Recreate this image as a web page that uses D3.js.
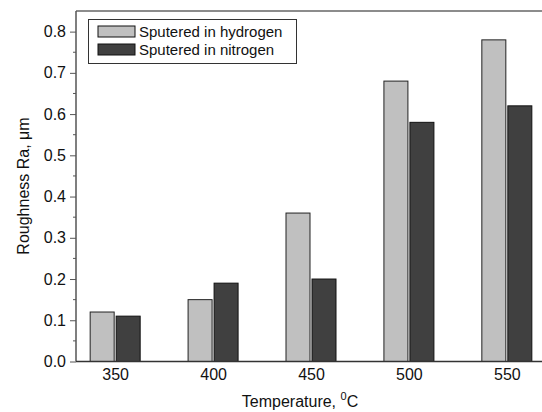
<!DOCTYPE html>
<html>
<head>
<meta charset="utf-8">
<script src="https://cdn.jsdelivr.net/npm/d3@7"></script>
<style>
  body { margin: 0; background: #fff; }
  text { font-family: "Liberation Sans", Arial, sans-serif; }
</style>
</head>
<body>
<div id="chart"></div>
<script>
// data
const temperatures = [350, 400, 450, 500, 550];
const hydrogen = [0.12, 0.15, 0.36, 0.68, 0.78];
const nitrogen = [0.11, 0.19, 0.20, 0.58, 0.62];
const seriesNames = ["Sputered in hydrogen", "Sputered in nitrogen"];
const yTicks = [0.0, 0.1, 0.2, 0.3, 0.4, 0.5, 0.6, 0.7, 0.8];

const width = 542, height = 412;
const plotLeft = 76, plotTop = 11, plotBottom = 361.5, plotRight = 546;

const svg = d3.select("#chart").append("svg")
    .attr("width", width)
    .attr("height", height);

const x = d3.scaleLinear().domain([330, 570]).range([plotLeft, plotRight]);
const y = d3.scaleLinear().domain([0, 0.85]).range([plotBottom, plotTop]);

const barW = 24;
const colors = ["#c0c0c0", "#404040"];

// bars
const rows = temperatures.map((t, i) => ({ t: t, h: hydrogen[i], n: nitrogen[i] }));

const groups = svg.selectAll("g.grp")
    .data(rows)
    .enter()
    .append("g")
    .attr("class", "grp");

groups.append("rect")
    .attr("x", d => x(d.t) - barW - 1)
    .attr("y", d => y(d.h))
    .attr("width", barW)
    .attr("height", d => y(0) - y(d.h))
    .attr("fill", colors[0])
    .attr("stroke", "#222")
    .attr("stroke-width", 1);

groups.append("rect")
    .attr("x", d => x(d.t) + 1)
    .attr("y", d => y(d.n))
    .attr("width", barW)
    .attr("height", d => y(0) - y(d.n))
    .attr("fill", colors[1])
    .attr("stroke", "#111")
    .attr("stroke-width", 1);

// top frame line
svg.append("line")
    .attr("x1", plotLeft).attr("x2", width)
    .attr("y1", plotTop).attr("y2", plotTop)
    .attr("stroke", "#666").attr("stroke-width", 1.5);

// y axis
const yAxis = d3.axisLeft(y)
    .tickValues(yTicks)
    .tickFormat(d3.format(".1f"))
    .tickSize(6)
    .tickPadding(4);

const gy = svg.append("g")
    .attr("transform", `translate(${plotLeft},0)`)
    .call(yAxis);
gy.select(".domain").attr("d", `M0,${plotBottom}V${plotTop}`).attr("stroke", "#555").attr("stroke-width", 1.5);
gy.selectAll(".tick line").attr("stroke", "#555");
gy.selectAll(".tick text").attr("font-size", 16).attr("fill", "#111")
    .style("font-family", "Liberation Sans, Arial, sans-serif");

// minor ticks
const minor = yTicks.slice(0, -1).map(v => v + 0.05);
svg.selectAll("line.minor")
    .data(minor)
    .enter()
    .append("line")
    .attr("class", "minor")
    .attr("x1", plotLeft - 3).attr("x2", plotLeft)
    .attr("y1", d => y(d)).attr("y2", d => y(d))
    .attr("stroke", "#555");

// x axis
const xAxis = d3.axisBottom(x)
    .tickValues(temperatures)
    .tickSize(0)
    .tickPadding(7);

const gx = svg.append("g")
    .attr("transform", `translate(0,${plotBottom})`)
    .call(xAxis);
gx.select(".domain").attr("d", `M${plotLeft},0H${width}`).attr("stroke", "#333").attr("stroke-width", 1.5);
gx.selectAll(".tick text").attr("font-size", 16).attr("fill", "#111")
    .style("font-family", "Liberation Sans, Arial, sans-serif");

// axis titles
const xt = svg.append("text")
    .attr("x", 300)
    .attr("y", 407)
    .attr("text-anchor", "middle")
    .attr("font-size", 16)
    .attr("fill", "#111");
xt.append("tspan").text("Temperature, ");
xt.append("tspan").attr("dy", -7).attr("font-size", 11).text("0");
xt.append("tspan").attr("dy", 7).text("C");

svg.append("text")
    .attr("transform", "translate(29,186) rotate(-90)")
    .attr("text-anchor", "middle")
    .attr("font-size", 16)
    .attr("fill", "#111")
    .text("Roughness Ra, \u03bcm");

// legend
const legend = svg.append("g");
legend.append("rect")
    .attr("x", 88.5).attr("y", 19.5)
    .attr("width", 208).attr("height", 44)
    .attr("fill", "#fff")
    .attr("stroke", "#333");

const items = legend.selectAll("g.item")
    .data(seriesNames)
    .enter()
    .append("g")
    .attr("class", "item")
    .attr("transform", (d, i) => `translate(0,${i * 18})`);

items.append("rect")
    .attr("x", 98).attr("y", 26)
    .attr("width", 37).attr("height", 11)
    .attr("fill", (d, i) => colors[i])
    .attr("stroke", "#111");

items.append("text")
    .attr("x", 139).attr("y", 37)
    .attr("font-size", 15)
    .attr("fill", "#111")
    .text(d => d);
</script>
</body>
</html>
